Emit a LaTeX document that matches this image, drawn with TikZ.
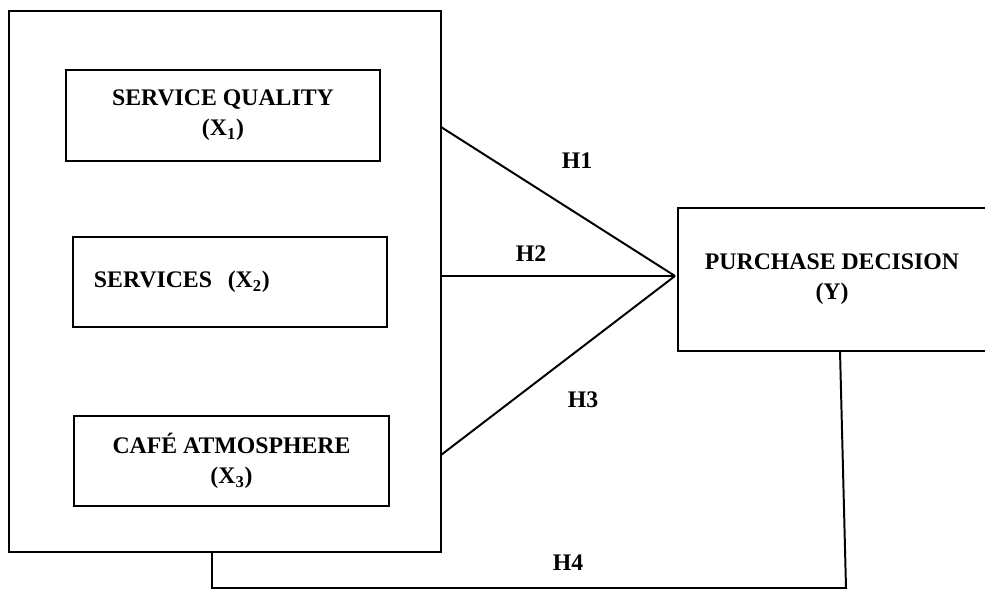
\documentclass[tikz,border=0pt]{standalone}
\usepackage{fontspec}
\setmainfont{Liberation Serif}
\usepackage{tikz}
\usetikzlibrary{calc}
\tikzstyle{edge}=[line width=1.4pt]
\tikzstyle{varBox}=[rectangle, draw, line width=1.9pt, inner sep=0pt, outer sep=0pt, align=center, font=\fontsize{16.9}{21.3}\selectfont\bfseries]
\tikzstyle{hypo}=[font=\fontsize{16.9}{21.3}\selectfont\bfseries]

\begin{document}
\begin{tikzpicture}[x=0.025cm, y=-0.025cm]
    \useasboundingbox (0,0) rectangle (985,590);

    %%%%%  Variables independientes  %%%%%
    \node (outer) [varBox, minimum width=10.8cm, minimum height=13.525cm] at (225,281.5){};
    \node (x1) [varBox, minimum width=7.85cm, minimum height=2.275cm] at (223,115.5)
          {SERVICE QUALITY\\(X\textsubscript{1})};
    \node (x2) [varBox, minimum width=7.85cm, minimum height=2.25cm, text width=6.8cm,
          inner xsep=0.525cm, align=left] at (230,282) {SERVICES\ \ (X\textsubscript{2})};
    \node (x3) [varBox, minimum width=7.875cm, minimum height=2.25cm] at (231.5,461)
          {CAFÉ ATMOSPHERE\\(X\textsubscript{3})};

    %%%%%  Variable dependiente  %%%%%
    \node (y) [varBox, minimum width=7.7cm, minimum height=3.575cm] at (832,279.5)
          {PURCHASE DECISION\\(Y)};

    %%%%%  Hipotesis  %%%%%
    \coordinate (c) at (675,276);
    \coordinate (h1) at (441,127);
    \coordinate (h2) at (441,276);
    \coordinate (h3) at (441,455);
    \coordinate (h4a) at (212,552);
    \coordinate (h4b) at (212,588);
    \coordinate (h4c) at (846,588);
    \coordinate (h4d) at (840,351);

    \draw [edge] (h1) to (c);
    \draw [edge] (h2) to (c);
    \draw [edge] (h3) to (c);
    \draw [edge] (h4a) -- (h4b) -- (h4c) -- (h4d);

    \node (H1) [hypo] at (577,161) {H1};
    \node (H2) [hypo] at (531,254) {H2};
    \node (H3) [hypo] at (583,400) {H3};
    \node (H4) [hypo] at (568,563) {H4};
\end{tikzpicture}
\end{document}
